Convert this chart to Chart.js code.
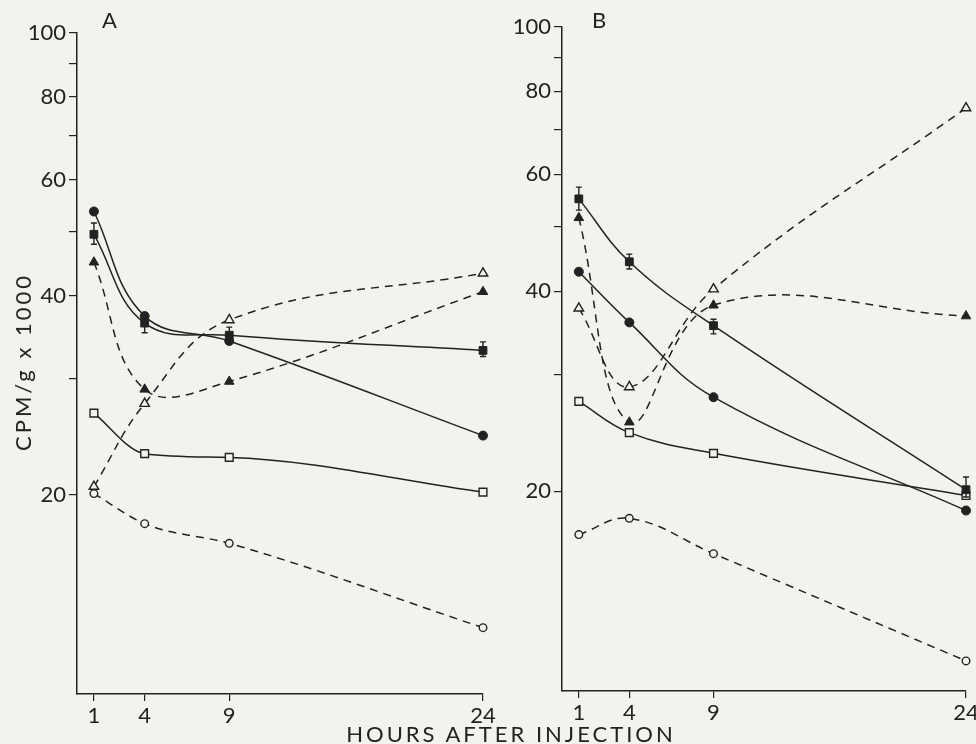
<!DOCTYPE html>
<html>
<head>
<meta charset="utf-8">
<script src="https://cdn.jsdelivr.net/npm/chart.js@4.4.1/dist/chart.umd.min.js"></script>
<style>
  html, body { margin: 0; padding: 0; background: #f4f2ec; }
  #wrap { position: relative; width: 976px; height: 744px; overflow: hidden; font-family: Lato, sans-serif; color: #222; }
  canvas { position: absolute; top: 0; }
  #panelA { left: 0; }
  #panelB { left: 488px; }
  .lbl { position: absolute; font-size: 22px; line-height: 22px; white-space: nowrap; }
  #ytitle { left: 23px; top: 362px; transform: translate(-50%, -50%) rotate(-90deg); letter-spacing: 3px; }
  #xtitle { left: 511px; top: 723px; transform: translateX(-50%); letter-spacing: 3px; }
</style>
</head>
<body>
<div id="wrap">
  <canvas id="panelA" width="500" height="744"></canvas>
  <canvas id="panelB" width="488" height="744"></canvas>
  <div class="lbl" style="left:102px;top:9px;">A</div>
  <div class="lbl" style="left:592px;top:9px;">B</div>
  <div class="lbl" id="ytitle">CPM/g x 1000</div>
  <div class="lbl" id="xtitle">HOURS AFTER INJECTION</div>
</div>
<script>
// values (CPM/g x 1000, log axis)
const hours = [1, 4, 9, 24];
const xTickLabels = ['1', '4', '9', '24'];
const yTickValues = [20, 30, 40, 50, 60, 70, 80, 90, 100];
const yTickLabels = ['20', '', '40', '', '60', '', '80', '', '100'];

// panel A
const aFilledSquare = [49.6, 36.4, 34.9, 33.1];
const aFilledSquareLow = [47.9, 35.2, 33.9, 32.4];
const aFilledSquareHigh = [51.6, 37.7, 35.9, 34.1];
const aFilledCircle = [53.7, 37.3, 34.2, 24.6];
const aFilledTriangle = [45.0, 28.9, 29.7, 40.6];
const aOpenTriangle = [20.6, 27.5, 36.8, 43.3];
const aOpenSquare = [26.6, 23.1, 22.8, 20.2];
const aOpenCircle = [20.1, 18.1, 16.9, 12.6];

// panel B
const bFilledSquare = [55.1, 44.3, 35.5, 20.1];
const bFilledSquareLow = [53.0, 43.2, 34.5, 19.6];
const bFilledSquareHigh = [57.4, 45.5, 36.3, 21.0];
const bFilledCircle = [42.8, 35.9, 27.7, 18.7];
const bFilledTriangle = [51.6, 25.4, 38.1, 36.7];
const bOpenTriangle = [37.7, 28.7, 40.3, 75.5];
const bOpenSquare = [27.3, 24.5, 22.8, 19.7];
const bOpenCircle = [17.2, 18.2, 16.1, 11.1];

const INK = '#222';
const BG = '#f4f2ec';
const FONT = { family: 'Lato, sans-serif', size: 22 };

// I-shaped error bars for the filled squares
const errorBars = {
    id: 'errorBars',
    afterDatasetsDraw(chart) {
        const { ctx } = chart;
        const xs = chart.scales.x, ys = chart.scales.y;
        chart.data.datasets.forEach(ds => {
            if (!ds.errLow) return;
            ctx.save();
            ctx.strokeStyle = INK;
            ctx.lineWidth = 1.4;
            ds.data.forEach((p, i) => {
                const px = xs.getPixelForValue(p.x);
                const top = ys.getPixelForValue(ds.errHigh[i]);
                const bot = ys.getPixelForValue(ds.errLow[i]);
                ctx.beginPath();
                ctx.moveTo(px, top); ctx.lineTo(px, bot);
                ctx.moveTo(px - 3, top); ctx.lineTo(px + 3, top);
                ctx.moveTo(px - 3, bot); ctx.lineTo(px + 3, bot);
                ctx.stroke();
            });
            ctx.restore();
        });
    }
};

function series(values, style, open, dashed, radius, extra) {
    return Object.assign({
        data: hours.map((h, i) => ({ x: h, y: values[i] })),
        borderColor: INK,
        borderWidth: 1.5,
        borderDash: dashed ? [8, 6] : [],
        tension: 0.4,
        fill: false,
        clip: false,
        pointStyle: style,
        pointRadius: radius,
        pointBackgroundColor: open ? BG : INK,
        pointBorderColor: INK,
        pointBorderWidth: open ? 1.4 : 1
    }, extra || {});
}

function makePanel(id, datasets, pad, yWidth, xHeight) {
    new Chart(document.getElementById(id), {
        type: 'line',
        data: { datasets },
        plugins: [errorBars],
        options: {
            responsive: false,
            animation: false,
            layout: { padding: pad },
            plugins: { legend: { display: false }, tooltip: { enabled: false } },
            scales: {
                x: {
                    type: 'linear', min: 0, max: 24,
                    afterBuildTicks: s => { s.ticks = hours.map(v => ({ value: v })); },
                    afterFit: s => { s.height = xHeight; s.paddingLeft = 0; s.paddingRight = 0; },
                    ticks: {
                        autoSkip: false, maxRotation: 0, padding: 2, color: INK, font: FONT,
                        callback: v => xTickLabels[hours.indexOf(v)]
                    },
                    grid: { drawOnChartArea: false, tickLength: 7, color: INK, lineWidth: 1.2 },
                    border: { display: true, color: INK, width: 1.5 }
                },
                y: {
                    type: 'logarithmic', min: 10, max: 100,
                    afterBuildTicks: s => { s.ticks = yTickValues.map(v => ({ value: v })); },
                    afterFit: s => { s.width = yWidth; s.paddingTop = 0; s.paddingBottom = 0; },
                    ticks: {
                        autoSkip: false, padding: 3, color: INK, font: FONT,
                        callback: v => yTickLabels[yTickValues.indexOf(v)]
                    },
                    grid: { drawOnChartArea: false, tickLength: 8, color: INK, lineWidth: 1.2 },
                    border: { display: true, color: INK, width: 1.5 }
                }
            }
        }
    });
}

const smooth = { cubicInterpolationMode: 'monotone' };

makePanel('panelA', [
    series(aFilledSquare, 'rect', false, false, 5.5, { errLow: aFilledSquareLow, errHigh: aFilledSquareHigh }),
    series(aFilledCircle, 'circle', false, false, 4.5),
    series(aFilledTriangle, 'triangle', false, true, 5.5),
    series(aOpenTriangle, 'triangle', true, true, 5.5),
    series(aOpenSquare, 'rect', true, false, 5.5, smooth),
    series(aOpenCircle, 'circle', true, true, 3.8, smooth)
], { top: 33, right: 17, bottom: 0, left: 0 }, 77, 50);

makePanel('panelB', [
    series(bFilledSquare, 'rect', false, false, 5.5, { errLow: bFilledSquareLow, errHigh: bFilledSquareHigh }),
    series(bFilledCircle, 'circle', false, false, 4.5),
    series(bFilledTriangle, 'triangle', false, true, 5.5),
    series(bOpenTriangle, 'triangle', true, true, 5.5),
    series(bOpenSquare, 'rect', true, false, 5.5),
    series(bOpenCircle, 'circle', true, true, 3.8)
], { top: 27, right: 10, bottom: 0, left: 0 }, 74, 53);
</script>
</body>
</html>
